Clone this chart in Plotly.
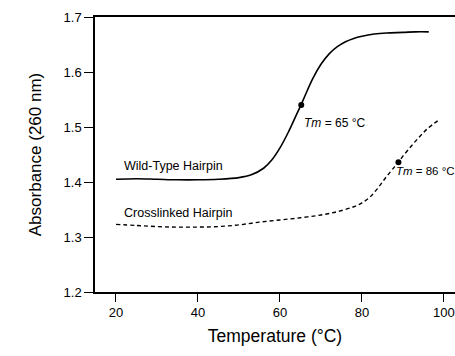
import plotly.graph_objects as go

# Wild-type hairpin melting curve
temp_wt = [20, 25, 30, 35, 40, 45, 50, 53, 56, 58, 60, 62, 64, 65, 66, 68, 70, 72, 74, 76, 78, 80, 83, 86, 90, 93, 96.3]
abs_wt = [1.405, 1.406, 1.405, 1.404, 1.404, 1.405, 1.408, 1.413, 1.425, 1.44, 1.462, 1.49, 1.522, 1.538, 1.555, 1.588,
          1.614, 1.633, 1.646, 1.655, 1.661, 1.665, 1.669, 1.671, 1.672, 1.673, 1.673]

# Crosslinked hairpin melting curve
temp_xl = [20, 25, 30, 35, 40, 45, 50, 55, 60, 65, 70, 74, 78, 80, 82, 84, 86, 88, 89, 90, 92, 94, 96, 98.8]
abs_xl = [1.323, 1.321, 1.319, 1.318, 1.318, 1.319, 1.322, 1.327, 1.331, 1.335, 1.340, 1.346, 1.355, 1.362, 1.373,
          1.39, 1.41, 1.428, 1.437, 1.447, 1.465, 1.482, 1.497, 1.513]

# Tm points
tm_temp = [65.2, 88.9]
tm_abs = [1.540, 1.436]
tm_labels = ["<i>Tm</i> = 65 °C", "<i>Tm</i> = 86 °C"]

curve_labels = ["Wild-Type Hairpin", "Crosslinked Hairpin"]

x_ticks = [20, 40, 60, 80, 100]
y_ticks = [1.2, 1.3, 1.4, 1.5, 1.6, 1.7]

FONT = "Liberation Sans, Arial, Helvetica, sans-serif"

fig = go.Figure()
fig.add_trace(go.Scatter(x=temp_wt, y=abs_wt, mode="lines", line=dict(color="black", width=1.6, shape="spline"),
                         name=curve_labels[0], showlegend=False))
fig.add_trace(go.Scatter(x=temp_xl, y=abs_xl, mode="lines",
                         line=dict(color="black", width=1.4, shape="spline", dash="4px,3px"),
                         name=curve_labels[1], showlegend=False))
fig.add_trace(go.Scatter(x=tm_temp, y=tm_abs, mode="markers", marker=dict(color="black", size=6),
                         showlegend=False))

# Curve labels
fig.add_annotation(x=21.5, y=1.430, text=curve_labels[0], showarrow=False, xanchor="left", yanchor="middle",
                   font=dict(size=12.5, color="black", family=FONT))
fig.add_annotation(x=21.5, y=1.343, text=curve_labels[1], showarrow=False, xanchor="left", yanchor="middle",
                   font=dict(size=12.5, color="black", family=FONT))
# Tm labels
fig.add_annotation(x=tm_temp[0] + 0.2, y=1.508, text=tm_labels[0], showarrow=False, xanchor="left",
                   yanchor="middle", font=dict(size=12, color="black", family=FONT))
fig.add_annotation(x=tm_temp[1] - 1.2, y=1.42, text=tm_labels[1], showarrow=False, xanchor="left",
                   yanchor="middle", font=dict(size=11.5, color="black", family=FONT))

fig.update_layout(
    width=455, height=356,
    margin=dict(l=95, r=0, t=17, b=64),
    paper_bgcolor="white", plot_bgcolor="white",
    font=dict(family=FONT, color="black"),
    xaxis=dict(range=[14.88, 102.7], tickvals=x_ticks, ticks="outside", ticklen=8, tickwidth=1.2,
               tickcolor="black", showline=True, linecolor="black", linewidth=1.5, mirror=True,
               showgrid=False, zeroline=False, tickfont=dict(size=13), automargin=False,
               title=dict(text="Temperature (°C)", font=dict(size=17.5), standoff=10)),
    yaxis=dict(range=[1.2, 1.7], tickvals=y_ticks, tickformat=".1f", ticks="outside", ticklen=9, tickwidth=1.2,
               tickcolor="black", showline=True, linecolor="black", linewidth=1.5, automargin=False,
               showgrid=False, zeroline=False, tickfont=dict(size=13),
               title=dict(text="Absorbance (260 nm)", font=dict(size=17), standoff=18)),
)

# Remove the default page margin so the 455x356 figure fills the window exactly
fig.write_html("out.html", config={"displayModeBar": False},
               post_script="document.body.style.margin='0';document.body.style.overflow='hidden';")
